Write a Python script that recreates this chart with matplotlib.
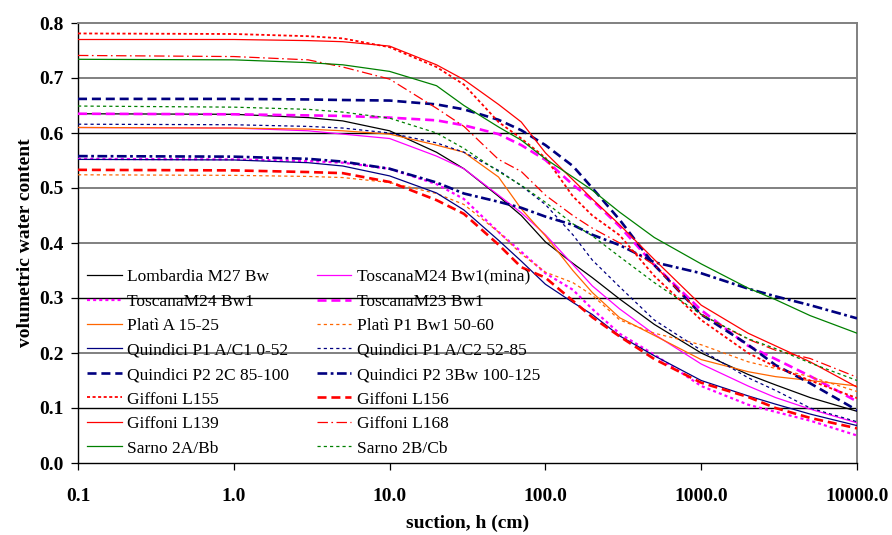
import matplotlib
matplotlib.use("Agg")
import matplotlib.pyplot as plt
from matplotlib.ticker import FixedLocator, NullLocator

plt.rcParams['font.family'] = ['Liberation Serif', 'DejaVu Serif']
plt.rcParams['lines.scale_dashes'] = False

# ---------------- data ----------------
suction = [0.1, 1, 3, 5, 10, 20, 30, 50, 70, 100, 150, 200, 300, 500,
           1000, 2000, 3000, 5000, 10000]

lombardia_m27 = [.635, .634, .628, .622, .604, .565, .535, .485, .450, .402, .363, .337, .298, .252,
                 .200, .161, .142, .119, .094]
toscana_m24_mina = [.610, .609, .604, .598, .590, .558, .535, .487, .455, .415, .361, .322, .280, .234,
                    .180, .140, .119, .098, .073]
toscana_m24 = [.553, .552, .549, .546, .535, .507, .480, .420, .384, .345, .315, .280, .235, .197,
               .140, .106, .093, .077, .050]
toscana_m23 = [.635, .634, .632, .631, .628, .623, .614, .598, .578, .551, .506, .478, .430, .360,
               .278, .213, .189, .158, .112]
plati_a = [.610, .609, .607, .604, .598, .578, .565, .520, .462, .413, .350, .310, .264, .232,
           .188, .166, .157, .150, .140]
plati_p1 = [.524, .523, .521, .519, .510, .490, .470, .420, .380, .347, .328, .305, .260, .236,
            .215, .184, .172, .157, .130]
quindici_p1_c1 = [.552, .551, .546, .540, .522, .491, .460, .405, .367, .325, .292, .270, .231, .195,
                  .150, .122, .107, .089, .068]
quindici_p1_c2 = [.616, .615, .612, .609, .600, .582, .565, .532, .504, .470, .415, .369, .320, .260,
                  .205, .155, .132, .100, .075]
quindici_p2_2c = [.662, .662, .661, .660, .659, .652, .643, .624, .605, .578, .540, .500, .442, .360,
                  .270, .215, .178, .145, .096]
quindici_p2_3bw = [.558, .557, .553, .548, .535, .510, .490, .475, .464, .448, .433, .415, .396, .365,
                   .345, .317, .303, .287, .263]
giffoni_l155 = [.781, .780, .776, .772, .756, .720, .688, .620, .590, .555, .485, .450, .414, .340,
                .260, .200, .175, .150, .118]
giffoni_l156 = [.533, .532, .529, .527, .511, .478, .453, .397, .356, .337, .295, .265, .230, .189,
                .146, .120, .100, .082, .063]
giffoni_l139 = [.770, .770, .768, .766, .758, .724, .697, .652, .620, .564, .515, .480, .433, .370,
                .287, .236, .213, .184, .138]
giffoni_l168 = [.741, .739, .733, .720, .698, .645, .612, .552, .530, .487, .450, .427, .400, .360,
                .270, .225, .205, .190, .156]
sarno_2a = [.734, .733, .728, .724, .712, .686, .650, .611, .587, .553, .520, .496, .456, .410,
            .362, .318, .297, .268, .236]
sarno_2b = [.649, .647, .643, .638, .627, .600, .572, .530, .505, .474, .435, .413, .375, .328,
            .270, .226, .208, .182, .150]

labels = ["Lombardia M27 Bw", "ToscanaM24 Bw1(mina)", "ToscanaM24 Bw1", "ToscanaM23 Bw1",
          "Platì A 15-25", "Platì P1 Bw1 50-60", "Quindici P1 A/C1 0-52", "Quindici P1 A/C2 52-85",
          "Quindici P2 2C 85-100", "Quindici P2 3Bw 100-125", "Giffoni L155", "Giffoni L156",
          "Giffoni L139", "Giffoni L168", "Sarno 2A/Bb", "Sarno 2B/Cb"]
series = [lombardia_m27, toscana_m24_mina, toscana_m24, toscana_m23, plati_a, plati_p1,
          quindici_p1_c1, quindici_p1_c2, quindici_p2_2c, quindici_p2_3bw, giffoni_l155,
          giffoni_l156, giffoni_l139, giffoni_l168, sarno_2a, sarno_2b]

xtick_vals = [0.1, 1, 10, 100, 1000, 10000]
xtick_labels = ["0.1", "1.0", "10.0", "100.0", "1000.0", "10000.0"]
ytick_vals = [0.0, 0.1, 0.2, 0.3, 0.4, 0.5, 0.6, 0.7, 0.8]
ytick_labels = ["0.0", "0.1", "0.2", "0.3", "0.4", "0.5", "0.6", "0.7", "0.8"]

# ---------------- styles ----------------
MAG = '#FF00FF'; NAVY = '#000080'; RED = '#FF0000'; ORG = '#FF6600'; GRN = '#008000'
thin_dash = (0, (2.3, 2.2))
styles = [
    dict(color='black', lw=0.9, ls='-'),
    dict(color=MAG, lw=0.9, ls='-'),
    dict(color=MAG, lw=1.6, ls=(0, (2.2, 2.2))),
    dict(color=MAG, lw=1.9, ls=(0, (6.5, 3.5))),
    dict(color=ORG, lw=0.9, ls='-'),
    dict(color=ORG, lw=0.9, ls=thin_dash),
    dict(color=NAVY, lw=0.9, ls='-'),
    dict(color=NAVY, lw=0.9, ls=thin_dash),
    dict(color=NAVY, lw=1.9, ls=(0, (6.5, 3.5))),
    dict(color=NAVY, lw=1.9, ls=(0, (7, 2.5, 2, 2.5))),
    dict(color=RED, lw=1.3, ls=(0, (2.2, 1.8))),
    dict(color=RED, lw=1.9, ls=(0, (6.5, 3.5))),
    dict(color=RED, lw=0.9, ls='-'),
    dict(color=RED, lw=0.9, ls=(0, (7.5, 2.5, 1.2, 2.5))),
    dict(color=GRN, lw=0.9, ls='-'),
    dict(color=GRN, lw=0.9, ls=thin_dash),
]

fig = plt.figure(figsize=(8.92, 5.35), dpi=100)
ax = fig.add_axes([78 / 892, 1 - 463 / 535, (857 - 78) / 892, (463 - 23) / 535])

# horizontal grid lines
grid_colors = ['black', '#808080', 'black', '#808080', '#808080', 'black', '#808080']
grid_widths = [1.0, 1.4, 1.0, 1.4, 1.4, 1.0, 1.4]
for v, c, w in zip(ytick_vals[1:-1], grid_colors, grid_widths):
    ax.axhline(v, color=c, lw=w, zorder=1)

handles = []
for vals, lab, st in zip(series, labels, styles):
    h, = ax.plot(suction, vals, label=lab, zorder=3, **st)
    handles.append(h)

ax.set_xscale('log')
ax.set_xlim(0.1, 10000)
ax.set_ylim(0.0, 0.8)
ax.xaxis.set_major_locator(FixedLocator(xtick_vals))
ax.xaxis.set_minor_locator(NullLocator())
ax.set_xticklabels(xtick_labels)
ax.set_yticks(ytick_vals)
ax.set_yticklabels(ytick_labels)

for lbl in ax.get_xticklabels() + ax.get_yticklabels():
    lbl.set_fontweight('bold')
    lbl.set_fontsize(14)
ax.tick_params(axis='x', direction='out', length=5, width=0.9, pad=13, colors='black')
ax.tick_params(axis='y', direction='out', length=5, width=0.9, pad=5, colors='black')

for s in ['top', 'right']:
    ax.spines[s].set_color('#808080')
    ax.spines[s].set_linewidth(1.4)
for s in ['left', 'bottom']:
    ax.spines[s].set_color('black')
    ax.spines[s].set_linewidth(1.0)

ax.set_xlabel('suction, h (cm)', fontsize=14, fontweight='bold', labelpad=7)
ax.set_ylabel('volumetric water content', fontsize=14, fontweight='bold', labelpad=4)

# legend is filled row by row in the reference -> reorder for column filling
order = list(range(0, len(handles), 2)) + list(range(1, len(handles), 2))
leg = ax.legend([handles[i] for i in order], [labels[i] for i in order],
                ncol=2, loc='upper left', bbox_to_anchor=(0.0116, 0.441),
                frameon=False, fontsize=12.5, handlelength=2.0, handletextpad=0.3,
                columnspacing=1.6, labelspacing=0.48, borderaxespad=0, borderpad=0)

fig.savefig('out.png', dpi=100)
